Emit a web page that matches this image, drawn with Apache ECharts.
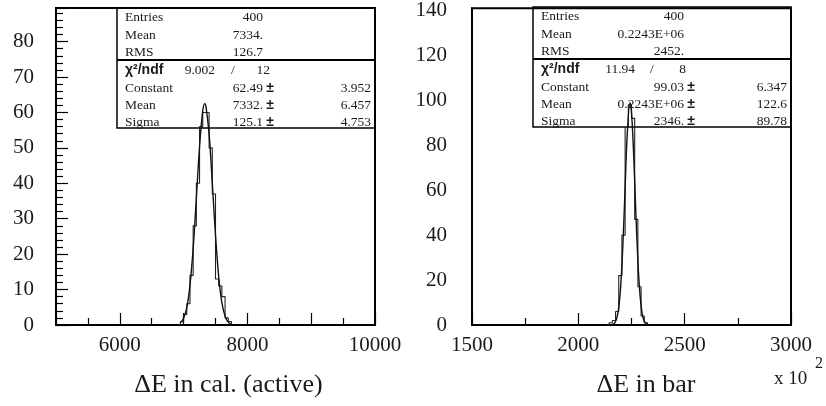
<!DOCTYPE html>
<html><head><meta charset="utf-8">
<script src="https://cdn.jsdelivr.net/npm/echarts@6/dist/echarts.min.js"></script>
<style>html,body{margin:0;padding:0;background:#fff}#c{width:826px;height:406px}</style>
</head><body><div id="c"></div>
<script>
// ---------- data ----------
// left histogram: low bin edges (bin width 50) and counts
const leftBinEdges = [6900, 6950, 7000, 7050, 7100, 7150, 7200, 7250, 7300, 7350, 7400, 7450, 7500, 7550, 7600, 7650, 7700, 7750];
const leftCounts   = [0, 1, 3, 6, 14, 28, 40, 56, 60, 60, 50, 37, 13, 11, 8, 2, 1, 0];
const leftFitX = [6950, 7000, 7050, 7100, 7150, 7200, 7250, 7300, 7332, 7350, 7400, 7450, 7500, 7550, 7600, 7650, 7700, 7750];
const leftFitY = [0.6, 1.9, 4.9, 11.2, 21.7, 35.8, 50.4, 60.5, 62.5, 61.8, 53.9, 40.0, 25.4, 13.7, 6.3, 2.5, 0.8, 0.2];
// right histogram (x in units of 10^2): low bin edges (bin width 15) and counts
const rightBinEdges = [2130, 2145, 2160, 2175, 2190, 2205, 2220, 2235, 2250, 2265, 2280, 2295, 2310, 2325];
const rightCounts   = [0, 1, 2, 6, 22, 40, 88, 98, 92, 47, 17, 4, 1, 0];
const rightFitX = [2160, 2170, 2180, 2190, 2200, 2210, 2220, 2230, 2243, 2250, 2260, 2270, 2280, 2290, 2300, 2310, 2320, 2330];
const rightFitY = [0.2, 0.8, 2.7, 7.7, 18.4, 36.8, 61.2, 85.0, 99.0, 94.8, 76.1, 51.1, 28.6, 13.4, 5.2, 1.7, 0.5, 0.1];

// tick labels
const leftXLabels = [6000, 8000, 10000];
const leftYLabels = [0, 10, 20, 30, 40, 50, 60, 70, 80];
const rightXLabels = [1500, 2000, 2500, 3000];
const rightYLabels = [0, 20, 40, 60, 80, 100, 120, 140];

// stats boxes
const statNames = ['Entries', 'Mean', 'RMS'];
const fitNames = ['Constant', 'Mean', 'Sigma'];
const leftStats = ['400', '7334.', '126.7'];
const leftChi = ['9.002', '12'];
const leftFit = ['62.49', '7332.', '125.1'];
const leftFitErr = ['3.952', '6.457', '4.753'];
const rightStats = ['400', '0.2243E+06', '2452.'];
const rightChi = ['11.94', '8'];
const rightFit = ['99.03', '0.2243E+06', '2346.'];
const rightFitErr = ['6.347', '122.6', '89.78'];

// ---------- chart ----------
const SERIF = '"Liberation Serif", "Times New Roman", serif';
const INK = '#1a1a1a';
function pairs(xs, ys) { return xs.map((x, i) => [x, ys[i]]); }

function xAxis(gi, min, max, interval, labels, name, namePad) {
  return {
    gridIndex: gi, type: 'value', min: min, max: max, interval: interval,
    axisLine: { show: true, onZero: false, lineStyle: { color: '#000', width: 2 } },
    axisTick: { show: true, inside: true, length: 12, lineStyle: { color: '#000', width: 1.2 } },
    minorTick: { show: true, splitNumber: 2, length: 7, lineStyle: { color: '#000', width: 1.2 } },
    splitLine: { show: false },
    axisLabel: {
      margin: 10, color: INK, fontFamily: SERIF, fontSize: 21,
      showMinLabel: true, showMaxLabel: true,
      formatter: v => labels.indexOf(v) >= 0 ? String(v) : ''
    },
    name: name, nameLocation: 'middle', nameGap: 47,
    nameTextStyle: { color: INK, fontFamily: SERIF, fontSize: 26, padding: namePad }
  };
}
function yAxis(gi, max, interval, labels, ticks, margin) {
  return {
    gridIndex: gi, type: 'value', min: 0, max: max, interval: interval,
    axisLine: { show: true, lineStyle: { color: '#000', width: 2 } },
    axisTick: { show: ticks, inside: true, length: 12, lineStyle: { color: '#000', width: 1.2 } },
    minorTick: { show: ticks, splitNumber: 5, length: 7, lineStyle: { color: '#000', width: 1.2 } },
    splitLine: { show: false },
    axisLabel: {
      margin: margin, color: INK, fontFamily: SERIF, fontSize: 21,
      formatter: v => labels.indexOf(v) >= 0 ? String(v) : ''
    }
  };
}

function statBox(bx, by, w, h, sep, vals, chi, fit, err, valRight, chiPos) {
  const els = [];
  const txt = (t, x, y, align, font) => ({
    type: 'text', z: 10,
    style: { text: t, x: x, y: y, align: align, verticalAlign: 'middle',
             font: font || ('13.5px ' + SERIF), fill: INK }
  });
  els.push({ type: 'rect', z: 1, shape: { x: bx, y: by, width: w, height: h },
             style: { fill: 'rgba(255,255,255,0)', stroke: '#000', lineWidth: 1.5 } });
  els.push({ type: 'line', z: 1, shape: { x1: bx, y1: by + sep, x2: bx + w, y2: by + sep },
             style: { stroke: '#000', lineWidth: 2.2 } });
  const rowY = [9, 27, 44, 62, 80, 97, 114];
  for (let i = 0; i < 3; i++) {
    els.push(txt(statNames[i], bx + 8, by + rowY[i], 'left'));
    els.push(txt(vals[i], bx + valRight, by + rowY[i], 'right'));
  }
  els.push(txt('χ²/ndf', bx + 8, by + rowY[3], 'left', 'bold 14px "Liberation Sans", Arial, sans-serif'));
  els.push(txt(chi[0], bx + chiPos[0], by + rowY[3], 'right'));
  els.push(txt('/', bx + chiPos[1], by + rowY[3], 'center'));
  els.push(txt(chi[1], bx + chiPos[2], by + rowY[3], 'right'));
  for (let i = 0; i < 3; i++) {
    els.push(txt(fitNames[i], bx + 8, by + rowY[4 + i], 'left'));
    els.push(txt(fit[i], bx + valRight, by + rowY[4 + i], 'right'));
    els.push(txt('±', bx + valRight + 7, by + rowY[4 + i], 'center', 'bold 14px "Liberation Sans", Arial, sans-serif'));
    els.push(txt(err[i], bx + w - 4, by + rowY[4 + i], 'right'));
  }
  return els;
}

const chart = echarts.init(document.getElementById('c'), null, { renderer: 'canvas' });
const lineBase = { type: 'line', symbol: 'none', silent: true, z: 5 };

chart.setOption({
  animation: false,
  backgroundColor: '#fff',
  grid: [
    { left: 56, top: 8, width: 319, height: 317, show: true, borderColor: '#000', borderWidth: 2, backgroundColor: 'transparent' },
    { left: 472, top: 7, width: 319, height: 318, show: true, borderColor: '#000', borderWidth: 2, backgroundColor: 'transparent' }
  ],
  xAxis: [
    xAxis(0, 5000, 10000, 1000, leftXLabels, 'ΔE in cal. (active)', [0, 0, 0, 26]),
    xAxis(1, 1500, 3000, 500, rightXLabels, 'ΔE in bar', [0, 0, 0, 29])
  ],
  yAxis: [
    yAxis(0, 89.5, 10, leftYLabels, true, 22),
    yAxis(1, 141, 20, rightYLabels, false, 25)
  ],
  series: [
    Object.assign({}, lineBase, { xAxisIndex: 0, yAxisIndex: 0, step: 'end',
      data: pairs(leftBinEdges, leftCounts), lineStyle: { color: '#222', width: 1.1 } }),
    Object.assign({}, lineBase, { xAxisIndex: 0, yAxisIndex: 0, smooth: 0.35,
      data: pairs(leftFitX, leftFitY), lineStyle: { color: '#111', width: 1.4 } }),
    Object.assign({}, lineBase, { xAxisIndex: 1, yAxisIndex: 1, step: 'end',
      data: pairs(rightBinEdges, rightCounts), lineStyle: { color: '#222', width: 1.1 } }),
    Object.assign({}, lineBase, { xAxisIndex: 1, yAxisIndex: 1, smooth: 0.35,
      data: pairs(rightFitX, rightFitY), lineStyle: { color: '#111', width: 1.4 } })
  ],
  graphic: [].concat(
    statBox(117, 8, 258, 120, 52, leftStats, leftChi, leftFit, leftFitErr, 146, [98, 116, 153]),
    statBox(533, 7, 258, 120, 52, rightStats, rightChi, rightFit, rightFitErr, 151, [102, 119, 153]),
    [
      { type: 'text', style: { text: 'x 10', x: 774, y: 379, align: 'left', verticalAlign: 'middle',
        font: '19px ' + SERIF, fill: INK } },
      { type: 'text', style: { text: '2', x: 815, y: 364, align: 'left', verticalAlign: 'middle',
        font: '16px ' + SERIF, fill: INK } }
    ]
  )
});
</script>
</body></html>
